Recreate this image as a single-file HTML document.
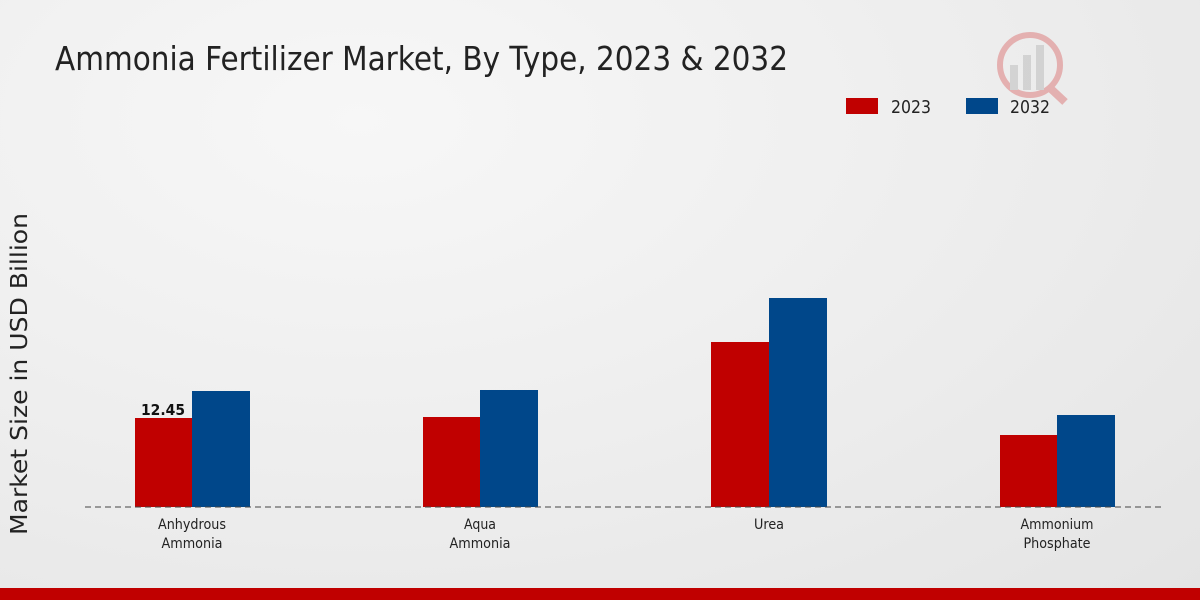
<!DOCTYPE html>
<html><head><meta charset="utf-8"><style>
html,body{margin:0;padding:0}
body{width:1200px;height:600px;overflow:hidden;background:radial-gradient(ellipse at 30% 20%,#f7f7f7 0%,#ececec 60%,#e4e4e4 100%);font-family:"DejaVu Sans","Liberation Sans",sans-serif;position:relative}
</style></head><body>
<svg width="1200" height="600" style="position:absolute;left:0;top:0">
<text x="55" y="70" font-size="33" fill="#222" textLength="733" lengthAdjust="spacingAndGlyphs">Ammonia Fertilizer Market, By Type, 2023 &amp; 2032</text>
<g opacity="0.25">
<circle cx="1030" cy="65" r="30" fill="none" stroke="#c00" stroke-width="6"/>
<rect x="1010" y="65" width="8" height="25" fill="#888"/>
<rect x="1023" y="55" width="8" height="35" fill="#888"/>
<rect x="1036" y="45" width="8" height="45" fill="#888"/>
<line x1="1050" y1="88" x2="1065" y2="102" stroke="#c00" stroke-width="8"/>
</g>
<rect x="846" y="98" width="32" height="16" fill="#c00000"/>
<text x="891" y="113" font-size="18" fill="#222" textLength="40" lengthAdjust="spacingAndGlyphs">2023</text>
<rect x="966" y="98" width="32" height="16" fill="#00478a"/>
<text x="1010" y="113" font-size="18" fill="#222" textLength="40" lengthAdjust="spacingAndGlyphs">2032</text>
<text transform="translate(27,374) rotate(-90)" text-anchor="middle" font-size="23" fill="#222" textLength="322" lengthAdjust="spacingAndGlyphs">Market Size in USD Billion</text>
<rect x="135" y="418" width="57" height="89" fill="#c00000"/>
<rect x="192" y="391" width="58" height="116" fill="#00478a"/>
<rect x="423" y="417" width="57" height="90" fill="#c00000"/>
<rect x="480" y="390" width="58" height="117" fill="#00478a"/>
<rect x="711" y="342" width="58" height="165" fill="#c00000"/>
<rect x="769" y="298" width="58" height="209" fill="#00478a"/>
<rect x="1000" y="435" width="57" height="72" fill="#c00000"/>
<rect x="1057" y="415" width="58" height="92" fill="#00478a"/>
<line x1="85" y1="507" x2="1165" y2="507" stroke="#444" stroke-width="1" stroke-dasharray="6,4"/>
<text x="163" y="415" text-anchor="middle" font-size="15" font-weight="bold" fill="#111" textLength="44" lengthAdjust="spacingAndGlyphs">12.45</text>
<g font-size="14" fill="#222" text-anchor="middle">
<text x="192" y="529" textLength="68" lengthAdjust="spacingAndGlyphs">Anhydrous</text><text x="192" y="548" textLength="61" lengthAdjust="spacingAndGlyphs">Ammonia</text>
<text x="480" y="529" textLength="32" lengthAdjust="spacingAndGlyphs">Aqua</text><text x="480" y="548" textLength="61" lengthAdjust="spacingAndGlyphs">Ammonia</text>
<text x="769" y="529" textLength="30" lengthAdjust="spacingAndGlyphs">Urea</text>
<text x="1057" y="529" textLength="73" lengthAdjust="spacingAndGlyphs">Ammonium</text><text x="1057" y="548" textLength="67" lengthAdjust="spacingAndGlyphs">Phosphate</text>
</g>
<rect x="0" y="588" width="1200" height="12" fill="#c00000"/>
</svg>
</body></html>
